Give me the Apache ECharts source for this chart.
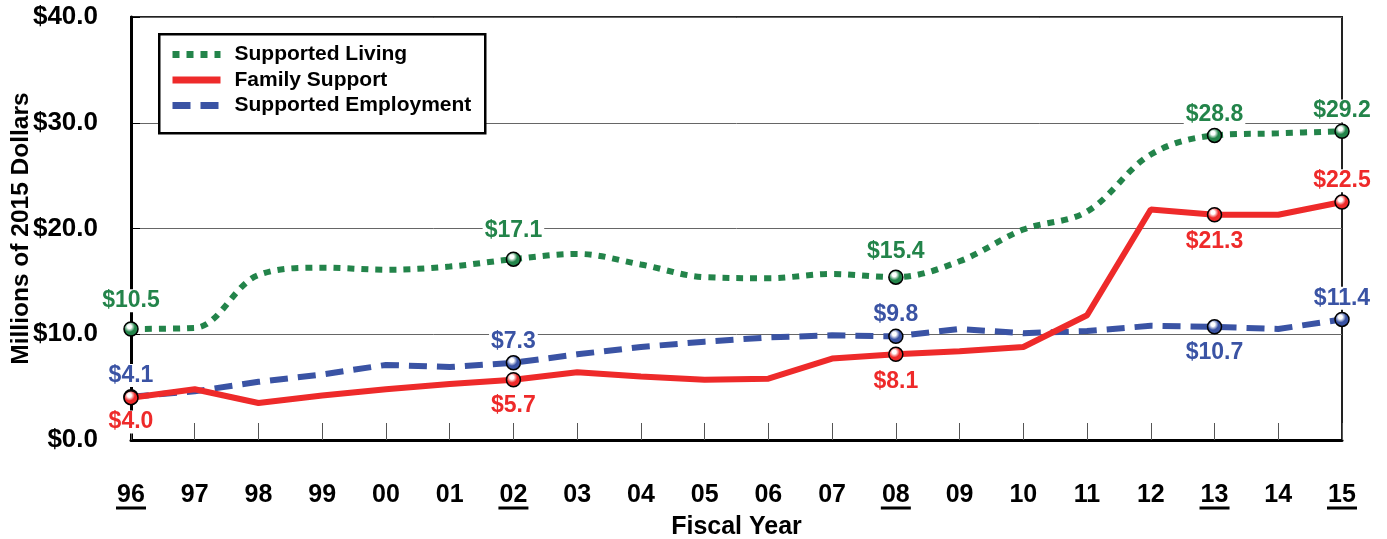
<!DOCTYPE html>
<html>
<head>
<meta charset="utf-8">
<script src="https://cdn.jsdelivr.net/npm/echarts@6/dist/echarts.min.js"></script>
<style>
html,body{margin:0;padding:0;background:#fff;}
#c{width:1387px;height:539px;}
</style>
</head>
<body>
<div id="c"></div>
<script>
const categories = ['96','97','98','99','00','01','02','03','04','05','06','07','08','09','10','11','12','13','14','15'];
const supportedLiving = [10.5,10.6,15.6,16.3,16.1,16.4,17.1,17.6,16.6,15.4,15.3,15.7,15.4,16.9,19.9,21.6,27.0,28.8,29.0,29.2];
const familySupport = [4.0,4.8,3.5,4.2,4.8,5.3,5.7,6.4,6.0,5.7,5.8,7.7,8.1,8.4,8.8,11.8,21.8,21.3,21.3,22.5];
const supportedEmployment = [4.1,4.6,5.5,6.2,7.1,6.9,7.3,8.1,8.8,9.3,9.7,9.9,9.8,10.5,10.1,10.3,10.8,10.7,10.5,11.4];
const yTicks = [0,10,20,30,40];
const markedIdx = [0,6,12,17,19];
const underlined = ['96','02','08','13','15'];
// label placements per marked point: [position, distance]
const livingLabels = {0:['top',9],6:['top',9],12:['top',6],17:['top',2],19:['top',1]};
const familyLabels = {0:['bottom',5],6:['bottom',7],12:['bottom',8],17:['bottom',8],19:['top',2]};
const employmentLabels = {0:['top',2],6:['top',2],12:['top',2],17:['bottom',7],19:['top',2]};

const GREEN='#23844a', RED='#ee2a2a', BLUE='#3a53a4';
const FONT='Liberation Sans, Arial, sans-serif';

function marker(color){
  return {type:'radial',x:0.4,y:0.35,r:0.5,colorStops:[{offset:0,color:'#ffffff'},{offset:0.25,color:'#ffffff'},{offset:0.7,color:color},{offset:1,color:color}]};
}
function buildData(vals,color,labels){
  return vals.map((v,i)=>{
    if(markedIdx.indexOf(i)<0) return v;
    const l = labels[i];
    return {
      value:v, symbol:'circle', symbolSize:14,
      itemStyle:{color:marker(color),borderColor:'#000',borderWidth:1.5},
      label:{show:true,position:l[0],distance:l[1],color:color,fontSize:23,fontWeight:'bold',fontFamily:FONT,
        backgroundColor:'#fff',padding:[0,2],formatter:p=>'$'+p.value.toFixed(1)}
    };
  });
}

const chart = echarts.init(document.getElementById('c'));
chart.setOption({
  animation:false,
  backgroundColor:'#fff',
  grid:{left:131,right:45,top:17,bottom:99,outerBoundsMode:'none',containLabel:false,show:true,borderColor:'#222',borderWidth:2,backgroundColor:'transparent'},
  graphic:[{type:'rect',left:158,top:33,shape:{width:326,height:99},style:{fill:'#fff',stroke:'#000',lineWidth:2.5},z:90}],
  legend:{
    orient:'vertical',left:164,top:39,z:100,
    itemWidth:48,itemHeight:20,itemGap:4.5,
    itemStyle:{opacity:0},
    lineStyle:{width:7},
    textStyle:{fontSize:21,fontWeight:'bold',color:'#000',fontFamily:FONT,padding:[0,0,0,9]},
    data:['Supported Living','Family Support','Supported Employment']
  },
  xAxis:{
    type:'category',data:categories,boundaryGap:false,
    name:'Fiscal Year',nameLocation:'middle',nameGap:75,nameMoveOverlap:false,
    nameTextStyle:{fontSize:25,fontWeight:'bold',color:'#000',fontFamily:FONT},
    axisLine:{lineStyle:{color:'#000',width:3}},
    axisTick:{inside:true,length:17,interval:0,lineStyle:{color:'#555',width:1}},
    axisLabel:{interval:0,margin:44,color:'#000',fontSize:25,fontWeight:'bold',fontFamily:FONT,
      formatter:v=> underlined.indexOf(v)>=0 ? '{a|'+v+'}\n{u|}' : '{a|'+v+'}',
      rich:{a:{fontSize:25,fontWeight:'bold',fontFamily:FONT,color:'#000',lineHeight:22},
            u:{width:30,height:3,backgroundColor:'#000',lineHeight:4}}}
  },
  yAxis:{
    type:'value',min:yTicks[0],max:yTicks[yTicks.length-1],interval:10,
    name:'Millions of 2015 Dollars',nameLocation:'middle',nameGap:97,nameMoveOverlap:false,
    nameTextStyle:{fontSize:24.5,fontWeight:'bold',color:'#000',fontFamily:FONT},
    axisLine:{show:true,lineStyle:{color:'#000',width:3}},
    axisTick:{show:true,inside:true,length:9,lineStyle:{color:'#000',width:1}},
    splitLine:{show:true,lineStyle:{color:'#666',width:1}},
    axisLabel:{margin:33,color:'#000',fontSize:26,fontWeight:'bold',fontFamily:FONT,formatter:v=>'$'+v.toFixed(1)}
  },
  series:[
    {name:'Supported Living',type:'line',smooth:0.35,symbol:'none',z:2,color:GREEN,
     lineStyle:{color:GREEN,width:6,type:[7,7],cap:'butt'},
     data:buildData(supportedLiving,GREEN,livingLabels)},
    {name:'Family Support',type:'line',symbol:'none',z:4,color:RED,
     lineStyle:{color:RED,width:6},
     data:buildData(familySupport,RED,familyLabels)},
    {name:'Supported Employment',type:'line',symbol:'none',z:3,color:BLUE,
     lineStyle:{color:BLUE,width:6,type:[18,10],cap:'butt'},
     data:buildData(supportedEmployment,BLUE,employmentLabels)}
  ]
});
</script>
</body>
</html>
